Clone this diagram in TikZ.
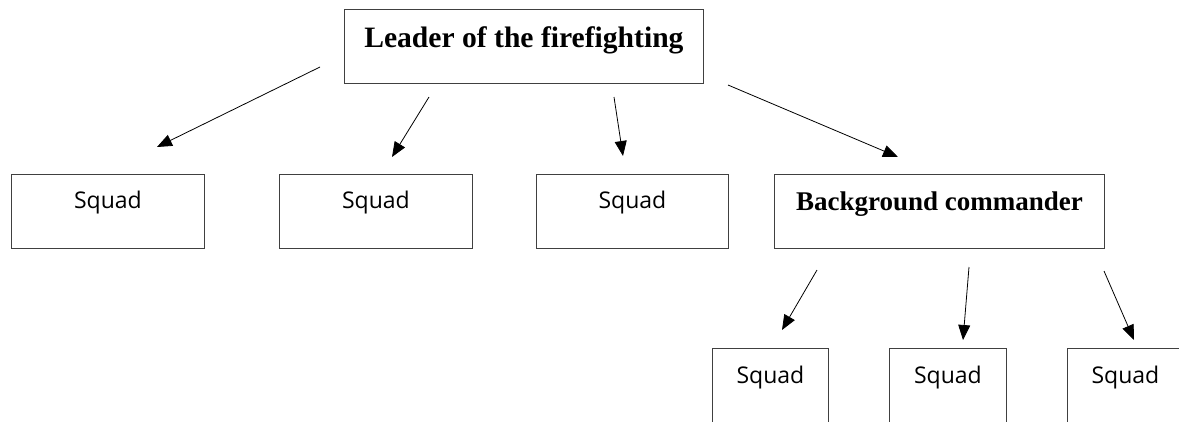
\documentclass[tikz,border=0pt]{standalone}
\usepackage{fontspec}
\usetikzlibrary{arrows.meta}
\newfontfamily\headfont{Liberation Serif}
\newfontfamily\squadfont{Open Sans}

\begin{document}
\begin{tikzpicture}[x=1pt,y=-1pt]

% ---------- common style ----------
\tikzstyle{box}=[draw=black!75,line width=0.8pt,inner sep=0pt,anchor=north west]
\tikzstyle{head}=[box,font=\headfont\bfseries\fontsize{29.6}{32}\selectfont]
\tikzstyle{squad}=[box,font=\squadfont\fontsize{23}{25}\selectfont]
\tikzstyle{link}=[black,line width=0.8pt,-{Triangle[length=15pt,width=12pt]}]

\useasboundingbox (0,0) rectangle (1179,421);
\clip (0,0) rectangle (1179,421);

% ================== top level ==================
\node[head,minimum width=359,text height=38,text depth=36]
      (lead) at (344,9) {Leader of the firefighting};

% ================== second level ==================
\node[squad,minimum width=193,text height=34,text depth=40] (sq1) at (11,174)  {Squad};
\node[squad,minimum width=193,text height=34,text depth=40] (sq2) at (279,174) {Squad};
\node[squad,minimum width=192,text height=34,text depth=40] (sq3) at (536,174) {Squad};
\node[head,minimum width=330,text height=36,text depth=38,
      font=\headfont\bfseries\fontsize{27}{30}\selectfont]
      (bgc) at (774,174) {Background commander};

% ================== third level (cut at the bottom) ==================
\node[squad,minimum width=116,text height=35,text depth=60] (sq4) at (712,348)  {Squad};
\node[squad,minimum width=117,text height=35,text depth=60] (sq5) at (889,348)  {Squad};
\node[squad,minimum width=116,text height=35,text depth=60] (sq6) at (1067,348) {Squad};

% arrow end points
\coordinate (a1s) at (320,67);  \coordinate (a1e) at (157,147);
\coordinate (a2s) at (429,97);  \coordinate (a2e) at (392,157);
\coordinate (a3s) at (614,97);  \coordinate (a3e) at (623,156);
\coordinate (a4s) at (728,85);  \coordinate (a4e) at (898,157);
\coordinate (a5s) at (817,270); \coordinate (a5e) at (782,330);
\coordinate (a6s) at (969,267); \coordinate (a6e) at (963,340);
\coordinate (a7s) at (1104,271);\coordinate (a7e) at (1134,340);

% arrows
\draw[link] (a1s) -- (a1e);
\draw[link] (a2s) -- (a2e);
\draw[link] (a3s) -- (a3e);
\draw[link] (a4s) -- (a4e);
\draw[link] (a5s) -- (a5e);
\draw[link] (a6s) -- (a6e);
\draw[link] (a7s) -- (a7e);

\end{tikzpicture}
\end{document}
